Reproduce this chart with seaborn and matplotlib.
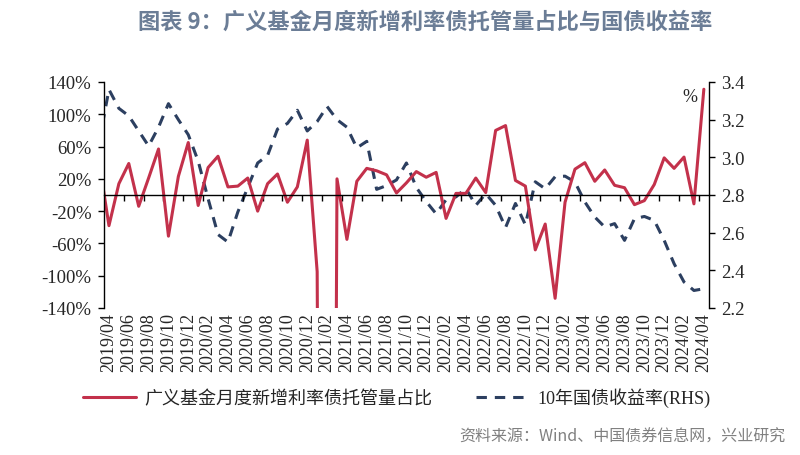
import numpy as np
import pandas as pd
import matplotlib
matplotlib.use('Agg')
import matplotlib.pyplot as plt
import seaborn as sns

# months, 2019/03 (clipped at the left edge) to 2024/04
months = pd.date_range('2019-03-01', '2024-04-01', freq='MS').strftime('%Y/%m').tolist()

# broad fund monthly share of new rate-bond custody (%), left axis
fund_share = [42, -38, 14, 39, -14, 21, 57, -51, 23, 65, -13, 34, 48, 10, 11, 21,
              -20, 14, 26, -9, 10, 68, -95, -2500, 20, -55, 17, 33, 30, 25, 2.5,
              15, 29, 22, 28, -29, 2, 2, 21, 3, 80, 86, 18, 11, -68, -36, -128,
              -9, 32, 40, 17, 31, 12, 9, -12, -7, 13, 46, 33, 47, -11, 131]

# 10y government bond yield (%), right axis
cgb_10y = [3.08, 3.36, 3.26, 3.22, 3.14, 3.06, 3.16, 3.285, 3.20, 3.12, 2.98, 2.78,
           2.59, 2.55, 2.71, 2.84, 2.97, 3.01, 3.15, 3.18, 3.25, 3.14, 3.19, 3.27,
           3.20, 3.16, 3.05, 3.085, 2.83, 2.85, 2.88, 2.97, 2.84, 2.765, 2.70,
           2.775, 2.79, 2.835, 2.745, 2.807, 2.745, 2.627, 2.755, 2.642, 2.87,
           2.833, 2.897, 2.90, 2.869, 2.763, 2.683, 2.63, 2.648, 2.559, 2.674,
           2.686, 2.665, 2.559, 2.435, 2.338, 2.293, 2.302]

left_ticks = [-140, -100, -60, -20, 20, 60, 100, 140]
right_ticks = [2.2, 2.4, 2.6, 2.8, 3.0, 3.2, 3.4]

title = '图表 9：广义基金月度新增利率债托管量占比与国债收益率'
source = '资料来源：Wind、中国债券信息网，兴业研究'
name_red = '广义基金月度新增利率债托管量占比'
name_blue = '10年国债收益率(RHS)'

RED = '#C3314B'
NAVY = '#2C3F60'

sns.set_style('white')
plt.rcParams['font.family'] = ['Liberation Serif', 'Noto Sans CJK SC']
plt.rcParams['axes.unicode_minus'] = False

df = pd.DataFrame({'idx': np.arange(len(months)) - 1, 'month': months,
                   'share': fund_share, 'yld': cgb_10y})

fig = plt.figure(figsize=(8, 4.56), dpi=100)
ax = fig.add_axes([0.13, 0.3224, 0.756, 0.4956])
ax2 = ax.twinx()

sns.lineplot(data=df, x='idx', y='yld', ax=ax2, color=NAVY, linewidth=2.2,
             label=name_blue, legend=False)
ax2.lines[0].set_dashes((3.4, 2.6))
sns.lineplot(data=df, x='idx', y='share', ax=ax, color=RED, linewidth=2.2,
             label=name_red, legend=False)

# red on top
ax.set_zorder(ax2.get_zorder() + 1)
ax.patch.set_visible(False)

ax.set_xlim(-0.5, 60.5)
ax.set_ylim(-140, 140)
ax2.set_ylim(2.2, 3.4)

ax.set_yticks(left_ticks, labels=[f'{t}%' for t in left_ticks])
ax2.set_yticks(right_ticks, labels=[f'{t:.1f}' for t in right_ticks])
ax.set_xlabel('')
ax.set_ylabel('')
ax2.set_ylabel('')

for a in (ax, ax2):
    a.spines['top'].set_visible(False)
    for s in a.spines.values():
        s.set_color('black')
        s.set_linewidth(1.0)
ax2.spines['bottom'].set_visible(False)
ax2.spines['left'].set_visible(False)
ax.spines['right'].set_visible(False)
ax.spines['bottom'].set_position(('data', 0))

ax.tick_params(axis='y', left=True, direction='out', length=4, width=1,
               color='black', labelsize=13.5, pad=5)
ax2.tick_params(axis='y', right=True, direction='out', length=4, width=1,
                color='black', labelsize=13.5, pad=5)

# tick marks on the zero line, between every second month
ax.set_xticks(np.arange(1.5, 60, 2))
ax.tick_params(axis='x', bottom=True, direction='out', length=4, width=1,
               color='black', labelbottom=False)

# month labels along the bottom edge
sec = ax.secondary_xaxis('bottom')
lab_idx = df['idx'][df['idx'] >= 0][::2]
sec.set_xticks(lab_idx.tolist(), labels=df.loc[lab_idx.index, 'month'].tolist(),
               rotation=90)
sec.tick_params(length=0, labelsize=13, pad=3)
sec.spines['bottom'].set_visible(False)

ax.text(0.969, 0.938, '%', transform=ax.transAxes, ha='center', va='center',
        fontsize=13)

handles = ax.get_lines()[:1] + ax2.get_lines()[:1]
fig.legend(handles, [name_red, name_blue], loc='center', bbox_to_anchor=(0.496, 0.127),
           ncol=2, frameon=False, fontsize=13, handlelength=2.9, columnspacing=2.4,
           handletextpad=0.5)

fig.text(0.531, 0.952, title, ha='center', va='center', fontsize=16,
         fontweight='bold', color='#6B7D96', family=['Noto Sans CJK SC'])
fig.text(0.982, 0.042, source, ha='right', va='center', fontsize=11.5,
         color='#808080', family=['Noto Sans CJK SC'])

fig.savefig('out.png', dpi=100)
